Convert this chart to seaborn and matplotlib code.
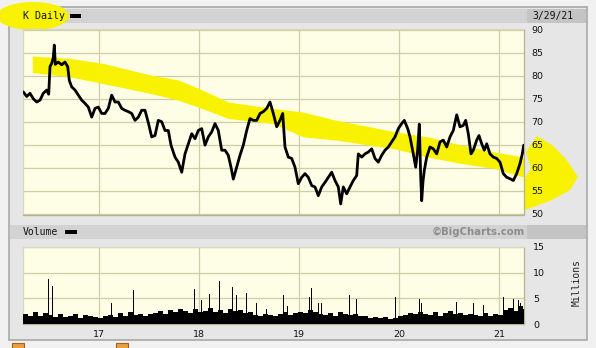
import numpy as np
import pandas as pd
import matplotlib
matplotlib.use("Agg")
import matplotlib.pyplot as plt
import seaborn as sns
from matplotlib.patches import Rectangle, Polygon, Ellipse

# ---------------- data ----------------
price_t = [2016.243, 2016.277, 2016.31, 2016.343, 2016.377, 2016.41, 2016.443, 2016.477, 2016.497,
           2016.51, 2016.527, 2016.543, 2016.553, 2016.563, 2016.593, 2016.627, 2016.66, 2016.687,
           2016.703, 2016.727, 2016.76, 2016.793, 2016.827, 2016.86, 2016.893, 2016.927, 2016.96,
           2016.993, 2017.027, 2017.06, 2017.093, 2017.127, 2017.16, 2017.193, 2017.227, 2017.26,
           2017.293, 2017.327, 2017.36, 2017.393, 2017.427, 2017.46, 2017.493, 2017.527, 2017.56,
           2017.593, 2017.627, 2017.66, 2017.693, 2017.72, 2017.76, 2017.793, 2017.827, 2017.86,
           2017.893, 2017.927, 2017.96, 2017.993, 2018.027, 2018.06, 2018.093, 2018.127, 2018.16,
           2018.193, 2018.227, 2018.26, 2018.293, 2018.32, 2018.343, 2018.377, 2018.41, 2018.443,
           2018.477, 2018.51, 2018.543, 2018.577, 2018.61, 2018.643, 2018.677, 2018.71, 2018.743,
           2018.777, 2018.81, 2018.837, 2018.86, 2018.893, 2018.927, 2018.96, 2018.993, 2019.027,
           2019.06, 2019.093, 2019.127, 2019.16, 2019.193, 2019.227, 2019.26, 2019.293, 2019.327,
           2019.36, 2019.393, 2019.417, 2019.443, 2019.477, 2019.51, 2019.543, 2019.577, 2019.593,
           2019.627, 2019.66, 2019.693, 2019.727, 2019.76, 2019.793, 2019.827, 2019.86, 2019.893,
           2019.927, 2019.96, 2019.993, 2020.027, 2020.053, 2020.087, 2020.11, 2020.143, 2020.167,
           2020.187, 2020.203, 2020.217, 2020.227, 2020.24, 2020.253, 2020.277, 2020.31, 2020.343,
           2020.377, 2020.41, 2020.443, 2020.477, 2020.51, 2020.543, 2020.577, 2020.61, 2020.643,
           2020.667, 2020.693, 2020.72, 2020.743, 2020.777, 2020.8, 2020.827, 2020.853, 2020.877,
           2020.91, 2020.943, 2020.977, 2021.01, 2021.043, 2021.077, 2021.11, 2021.143, 2021.177,
           2021.21, 2021.233, 2021.247]
price_v = [76.5, 75.5, 76.2, 75.0, 74.3, 74.7, 76.2, 76.9, 76.0,
           82.0, 82.7, 84.0, 86.7, 82.5, 83.0, 82.4, 83.0, 82.0,
           79.0, 77.6, 76.9, 75.8, 74.7, 74.0, 73.2, 71.0, 72.9,
           73.2, 71.8, 71.8, 72.9, 75.8, 74.3, 74.3, 72.9, 72.5,
           72.2, 71.8, 70.3, 71.0, 72.5, 72.5, 69.8, 66.7, 67.0,
           70.3, 70.0, 68.1, 68.1, 64.9, 62.3, 61.2, 59.0, 63.0,
           65.2, 67.4, 66.3, 68.1, 68.5, 64.9, 66.7, 67.8, 69.6,
           68.1, 63.8, 63.8, 62.7, 60.1, 57.5, 60.1, 62.7, 64.9,
           68.1, 70.7, 70.3, 70.3, 71.8, 72.2, 72.9, 74.3, 71.8,
           68.9, 70.3, 71.8, 64.5, 62.3, 62.0, 60.1, 56.5, 57.9,
           58.7, 57.9, 56.1, 55.8, 53.9, 55.8, 56.8, 57.9, 59.0,
           57.2, 55.8, 52.1, 55.8, 54.3, 55.8, 57.2, 58.3, 63.0,
           62.3, 63.0, 63.4, 64.1, 62.0, 61.2, 62.7, 63.8, 64.5,
           65.6, 66.7, 68.5, 69.6, 70.3, 68.5, 66.7, 63.0, 60.1,
           64.0, 69.5, 58.0, 52.8, 57.0, 59.4, 62.3, 64.5, 64.1,
           63.0, 65.6, 66.0, 64.5, 66.7, 68.1, 71.5, 68.9, 69.2,
           70.3, 67.4, 63.0, 63.8, 66.0, 67.0, 65.2, 63.8, 65.2,
           63.0, 62.3, 62.0, 61.2, 58.7, 57.9, 57.6, 57.2, 58.7,
           60.9, 63.0, 64.9]

# typical daily volume level (millions), one value per ~0.05 year
vol_base = [2.0, 1.6, 2.4, 1.5, 2.2, 1.8,
            1.4, 2.0, 1.3, 1.6, 1.9, 1.2, 1.7, 1.5, 1.3, 1.1,
            1.5, 1.8, 1.3, 2.1, 1.6, 2.3, 1.7, 1.9, 1.5, 2.0,
            2.2, 2.6, 2.0, 2.8, 2.3, 3.0, 2.5, 2.2, 2.9, 2.4,
            2.6, 3.1, 2.4, 2.8, 2.2, 3.0, 2.5, 2.7, 2.1, 2.4,
            1.8, 1.5, 2.0, 1.7, 1.6, 1.9, 2.3, 1.8, 2.1, 2.4,
            2.2, 2.7, 2.4, 2.0, 1.8, 2.1, 1.6, 2.3, 1.9, 1.7,
            1.9, 1.5, 1.6, 1.2, 1.4, 1.1, 1.3, 1.0, 1.2, 1.5,
            1.7, 2.2, 1.9, 2.4, 2.0, 1.8, 2.3, 1.6, 2.1, 2.5,
            1.9, 2.2, 1.7, 2.0, 1.8, 1.6, 2.1, 1.5, 1.9, 1.8,
            2.8, 3.2, 2.6, 3.5, 3.0]
vol_base_start = 2016.265
vol_base_step = 0.05

# high-volume days (year, millions)
spike_t = [2016.31, 2016.493, 2016.533, 2017.127, 2017.21, 2017.343, 2017.57, 2017.71, 2017.77,
           2017.82, 2017.86, 2017.91, 2017.953, 2018.027, 2018.103, 2018.16, 2018.203, 2018.26,
           2018.333, 2018.377, 2018.42, 2018.477, 2018.577, 2018.677, 2018.843, 2018.883, 2019.103,
           2019.123, 2019.16, 2019.193, 2019.227, 2019.26, 2019.41, 2019.503, 2019.577, 2019.967,
           2020.203, 2020.227, 2020.46, 2020.577, 2020.71, 2020.743, 2020.843, 2021.043, 2021.11,
           2021.143, 2021.193, 2021.217]
spike_v = [3.2, 8.8, 7.5, 4.0, 4.3, 6.7, 4.0, 5.9, 4.7,
           6.1, 4.6, 5.3, 6.9, 4.6, 5.8, 4.7, 8.3, 4.6,
           7.2, 5.6, 6.5, 6.0, 4.0, 2.9, 5.6, 3.5, 5.3,
           7.1, 4.0, 4.0, 4.0, 4.9, 3.7, 5.6, 4.9, 5.3,
           4.9, 4.0, 6.3, 4.3, 5.8, 4.0, 3.7, 5.3, 4.3,
           4.9, 4.6, 4.0]

# hand-drawn highlighter band (year, upper price, lower price)
band_t = [2016.333, 2016.71, 2017.043, 2017.51, 2017.793, 2017.993, 2018.293, 2018.743,
          2019.043, 2019.377, 2019.71, 2019.96, 2020.293, 2020.627, 2020.96, 2021.25]
band_hi = [84.3, 83.8, 82.7, 80.2, 79.1, 77.3, 74.3, 72.9, 72.1, 70.3, 68.9, 67.8, 66.7, 64.9, 63.4, 62.3]
band_lo = [80.7, 79.8, 78.3, 76.2, 74.7, 73.2, 70.7, 69.6, 66.7, 66.0, 64.9, 64.1, 62.3, 60.9, 59.8, 57.9]

price_ticks = [50, 55, 60, 65, 70, 75, 80, 85, 90]
vol_ticks = [0, 5, 10, 15]
year_ticks = [2017, 2018, 2019, 2020, 2021]
year_labels = ["17", "18", "19", "20", "21"]

title_text = "K Daily"
date_text = "3/29/21"

# ---------------- styling ----------------
W, H = 596, 348
sns.set_style("white")
plt.rcParams["font.family"] = ["DejaVu Sans"]

CREAM = "#fefee6"
GRID = "#cdcda6"
YEL = "#f8f200"
PANEL = "#e6e6e6"

fig = plt.figure(figsize=(W / 100, H / 100), dpi=100, facecolor="#f1f1f1")

def fbox(x0, y0, x1, y1):
    return [x0 / W, 1 - y1 / H, (x1 - x0) / W, (y1 - y0) / H]

# background / decoration axes in pixel coordinates
bg = fig.add_axes([0, 0, 1, 1], zorder=0)
bg.set_xlim(0, W)
bg.set_ylim(H, 0)
bg.axis("off")
bg.add_patch(Rectangle((9, 7), 578, 333, facecolor=PANEL, edgecolor="#a8a8a8", lw=1.2))
bg.add_patch(Rectangle((10, 9), 576, 14, facecolor="#d2d2d2", edgecolor="none"))
bg.add_patch(Rectangle((527, 9), 59, 14, facecolor="#c4c4c4", edgecolor="none"))
bg.add_patch(Rectangle((10, 225), 576, 14, facecolor="#d2d2d2", edgecolor="none"))
bg.add_patch(Rectangle((527, 225), 59, 14, facecolor="#c4c4c4", edgecolor="none"))
# highlighter blob around the title
bg.add_patch(Ellipse((33, 16), 72, 28, facecolor=YEL, edgecolor="none"))
# highlighter arrow at the right
bg.add_patch(Polygon([(526, 152), (537, 136), (552, 145), (566, 159), (578, 177), (570, 190),
                      (552, 200), (525, 210), (525, 178), (531, 168)],
                     closed=True, facecolor=YEL, edgecolor="none"))
# small icons at the bottom
bg.add_patch(Rectangle((12, 343), 12, 6, facecolor="#e8a040", edgecolor="#a06020", lw=0.8))
bg.add_patch(Rectangle((116, 343), 12, 6, facecolor="#e8a040", edgecolor="#a06020", lw=0.8))

bg.text(23, 16, title_text, family="DejaVu Sans Mono", fontsize=7.2, va="center", ha="left", color="#111")
bg.add_patch(Rectangle((70, 14), 11, 4, facecolor="black", edgecolor="none"))
bg.text(573, 16, date_text, family="DejaVu Sans Mono", fontsize=7, va="center", ha="right", color="#111")
bg.text(23, 232, "Volume", family="DejaVu Sans Mono", fontsize=7, va="center", ha="left", color="#111")
bg.add_patch(Rectangle((65, 230), 12, 4, facecolor="black", edgecolor="none"))
bg.text(525, 232, "\u00a9BigCharts.com", fontsize=7.3, fontweight="bold", va="center", ha="right",
        color="#8c8c8c")
bg.text(577, 283, "Millions", family="DejaVu Sans Mono", fontsize=7, rotation=90,
        va="center", ha="center", color="#222")

def style_axes(ax):
    ax.set_facecolor(CREAM)
    for s in ax.spines.values():
        s.set_color("#b4b48c")
        s.set_linewidth(0.9)
    ax.spines["top"].set_color("#d8d8c0")
    ax.spines["left"].set_color("#d8d8c0")
    ax.grid(True, color=GRID, linewidth=0.9)
    ax.set_axisbelow(True)
    ax.yaxis.tick_right()
    ax.tick_params(axis="both", length=0, labelsize=6.8, colors="#111")

# ---------------- price panel ----------------
axp = fig.add_axes(fbox(23, 29, 524, 214.5), zorder=2)
style_axes(axp)
price_df = pd.DataFrame({"t": price_t, "price": price_v})
axp.fill_between(band_t, band_lo, band_hi, color=YEL, lw=0, zorder=1.5)
sns.lineplot(data=price_df, x="t", y="price", ax=axp, color="black", linewidth=2.0, zorder=3)
axp.set_xlim(2016.24, 2021.25)
axp.set_ylim(49.8, 90.2)
axp.set_yticks(price_ticks)
axp.set_yticklabels([str(v) for v in price_ticks])
axp.set_xticks(year_ticks)
axp.set_xticklabels([])
axp.tick_params(axis="y", pad=5.5)
axp.set_xlabel("")
axp.set_ylabel("")

# ---------------- volume panel ----------------
axv = fig.add_axes(fbox(23, 247, 524, 324), zorder=2)
style_axes(axv)
base_t = [round(vol_base_start + vol_base_step * i, 3) for i in range(len(vol_base))]
axv.bar(base_t, vol_base, width=vol_base_step, color="black", linewidth=0, zorder=3)
axv.bar(spike_t, spike_v, width=0.009, color="black", linewidth=0, zorder=3)
axv.set_xlim(2016.24, 2021.25)
axv.set_ylim(0, 15)
axv.set_yticks(vol_ticks)
axv.set_yticklabels([str(v) for v in vol_ticks])
axv.set_xticks(year_ticks)
axv.set_xticklabels(year_labels)
axv.tick_params(axis="y", pad=6.5)
axv.tick_params(axis="x", pad=4)

fig.savefig("out.png", dpi=100, facecolor=fig.get_facecolor())
